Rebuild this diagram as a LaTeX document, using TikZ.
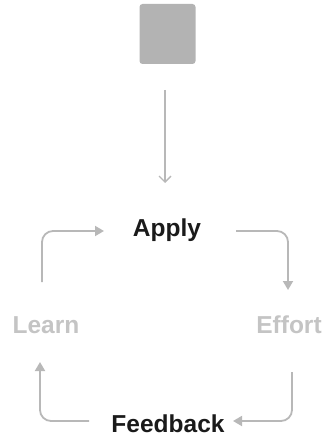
\documentclass[tikz,border=0pt]{standalone}
\usepackage{fontspec}
\setmainfont{Liberation Sans}
\usetikzlibrary{arrows.meta}
\definecolor{dark}{HTML}{1A1A1A}
\definecolor{faded}{HTML}{C4C4C4}
\definecolor{arrowgray}{HTML}{B8B8B8}
\definecolor{boxgray}{HTML}{B3B3B3}
\begin{document}
\begin{tikzpicture}[x=1pt,y=1pt,
  lbl/.style={font=\fontsize{24.5}{28}\selectfont\bfseries, inner sep=0pt, anchor=base},
  cyc/.style={draw=arrowgray, line width=1.8pt, rounded corners=11pt, -{Triangle[length=9pt,width=10pt]}},
  topar/.style={draw=arrowgray, line width=1.6pt, -{Straight Barb[length=6pt,width=12pt,line width=1.4pt]}}]
\useasboundingbox (0,0) rectangle (324,-438);
\node[fill=boxgray, rounded corners=3pt, minimum width=56pt, minimum height=60pt, inner sep=0pt] (src) at (167.5,-34) {};
\node[lbl, text=dark] (apply) at (167,-236) {Apply};
\node[lbl, text=faded] (learn) at (46,-333) {Learn};
\node[lbl, text=faded] (effort) at (289,-333) {Effort};
\node[lbl, text=dark] (feedback) at (168,-432) {Feedback};
\coordinate (t0) at (165,-90);
\coordinate (t1) at (165,-183);
\draw[topar] (t0) -- (t1);
\coordinate (a0) at (42,-282);
\coordinate (a1) at (104,-231);
\draw[cyc] (a0) |- (a1);
\coordinate (b0) at (236,-231);
\coordinate (b1) at (288,-290);
\draw[cyc] (b0) -| (b1);
\coordinate (c0) at (292,-372);
\coordinate (c1) at (233,-421);
\draw[cyc] (c0) |- (c1);
\coordinate (d0) at (89,-421);
\coordinate (d1) at (40,-362);
\draw[cyc] (d0) -| (d1);
\end{tikzpicture}
\end{document}
